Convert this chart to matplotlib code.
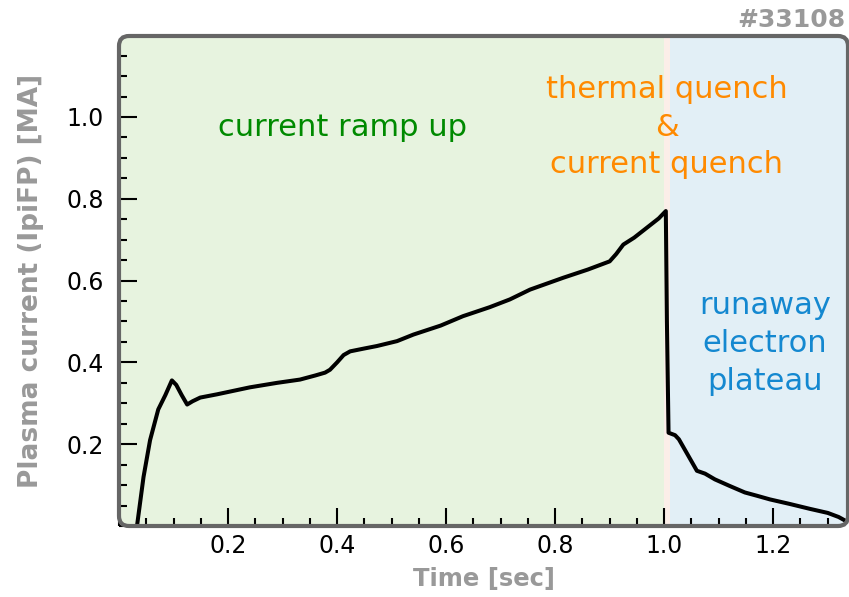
import matplotlib
matplotlib.use('Agg')
import matplotlib.pyplot as plt
from matplotlib.patches import FancyBboxPatch
from matplotlib.ticker import MultipleLocator
from matplotlib.transforms import IdentityTransform

# plasma current trace
t_sec = [0.033, 0.045, 0.057, 0.065, 0.072, 0.085, 0.097, 0.105, 0.115, 0.125,
         0.135, 0.149, 0.18, 0.24, 0.29, 0.332, 0.36, 0.378, 0.387, 0.40, 0.412,
         0.424, 0.45, 0.473, 0.51, 0.54, 0.59, 0.631, 0.68, 0.717, 0.754, 0.815,
         0.86, 0.90, 0.912, 0.925, 0.945, 0.968, 0.99, 1.003,
         1.005, 1.008, 1.02, 1.027, 1.045, 1.06, 1.075, 1.093, 1.12, 1.148,
         1.17, 1.194, 1.23, 1.267, 1.30, 1.32, 1.339]
ip_ma = [0.0, 0.12, 0.21, 0.25, 0.285, 0.32, 0.356, 0.345, 0.32, 0.297,
         0.305, 0.314, 0.322, 0.339, 0.35, 0.358, 0.368, 0.375, 0.382, 0.40, 0.418,
         0.427, 0.434, 0.440, 0.452, 0.468, 0.49, 0.513, 0.535, 0.554, 0.578, 0.607,
         0.627, 0.647, 0.665, 0.688, 0.705, 0.729, 0.752, 0.770,
         0.50, 0.228, 0.222, 0.212, 0.17, 0.135, 0.128, 0.114, 0.098, 0.082,
         0.074, 0.065, 0.054, 0.042, 0.032, 0.022, 0.008]

phase_edges = [0.0, 1.0, 1.01, 1.34]
phase_colors = ['#e7f3df', '#fbeee8', '#e2eff6']

labels = ['current ramp up', 'thermal quench\n&\ncurrent quench', 'runaway\nelectron\nplateau']
label_pos = [(0.41, 0.975), (1.005, 0.975), (1.185, 0.446)]
label_colors = ['#008a00', '#ff8a00', '#1488d0']

fig = plt.figure(figsize=(8.49, 5.97), dpi=100)
ax = fig.add_axes([119 / 849, 71 / 597, 730 / 849, 490 / 597])
ax.set_xlim(0, 1.339)
ax.set_ylim(0, 1.198)
ax.patch.set_visible(False)
for s in ax.spines.values():
    s.set_visible(False)

# rounded frame in pixel coords
frame = FancyBboxPatch((119, 71), 729, 490, boxstyle='round,pad=0,rounding_size=10',
                       transform=IdentityTransform(), facecolor='none',
                       edgecolor='#666666', linewidth=3, zorder=5, clip_on=False)
ax.add_artist(frame)

for i in range(len(phase_colors)):
    sp = ax.axvspan(phase_edges[i], phase_edges[i + 1], color=phase_colors[i], lw=0, zorder=0)
    sp.set_clip_path(frame)

line, = ax.plot(t_sec, ip_ma, color='black', lw=2.9, zorder=3)
line.set_clip_path(frame)

for txt, (x, y), c in zip(labels, label_pos, label_colors):
    ax.text(x, y, txt, color=c, fontsize=22, ha='center', va='center',
            linespacing=1.38, zorder=4)

ax.set_xticks([0.2, 0.4, 0.6, 0.8, 1.0, 1.2])
ax.set_yticks([0.2, 0.4, 0.6, 0.8, 1.0])
ax.xaxis.set_minor_locator(MultipleLocator(0.05))
ax.yaxis.set_minor_locator(MultipleLocator(0.05))
ax.tick_params(which='major', direction='in', length=13, width=1.5, labelsize=17, pad=6)
ax.tick_params(axis='y', which='major', pad=11)
ax.tick_params(which='minor', direction='in', length=6, width=1.5)

ax.set_xlabel('Time [sec]', fontsize=17.5, fontweight='bold', color='#999999', labelpad=6)
ax.set_ylabel('Plasma current (IpiFP) [MA]', fontsize=19, fontweight='bold',
              color='#999999', labelpad=16)

fig.text(845 / 849, 1 - 20 / 597, '#33108', fontsize=18, fontweight='bold',
         color='#999999', ha='right', va='center')

fig.savefig('out.png', dpi=100)
